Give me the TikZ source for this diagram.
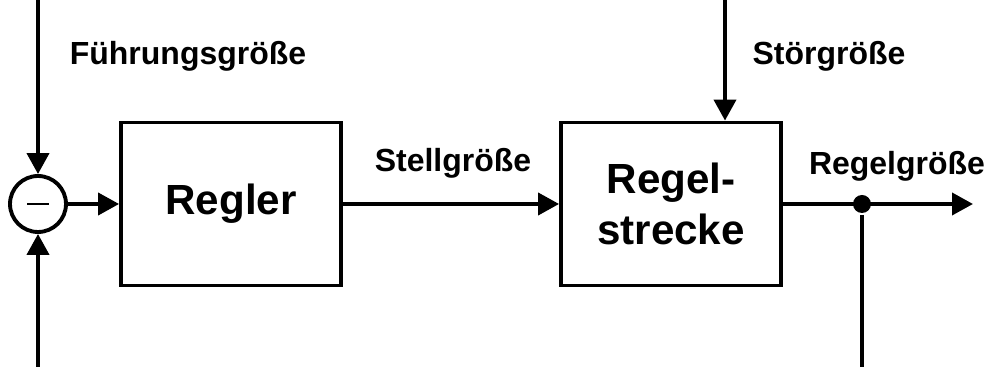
\documentclass[tikz,border=0pt]{standalone}
\usepackage{fontspec}
\setmainfont{Liberation Sans}
\usetikzlibrary{arrows.meta,positioning}

\tikzset{
  block/.style={draw,minimum width=4.4cm,minimum height=3.26cm,inner sep=0pt,font=\fontsize{24}{29.5}\selectfont\bfseries,align=center},
  signal/.style={font=\fontsize{18.2}{22}\selectfont\bfseries,inner sep=0pt,anchor=base},
  sumpoint/.style={draw,circle,minimum size=1.12cm,inner sep=0pt},
  dot/.style={fill,circle,minimum size=0.36cm,inner sep=0pt}
}

\begin{document}
\begin{tikzpicture}[x=0.02cm,y=-0.02cm,line width=2.2pt,>={Triangle[length=0.42cm,width=0.44cm]}]
\useasboundingbox (0,0) rectangle (992,367);
\node[sumpoint] (sum) at (38,204) {};
\draw[line width=1.2pt] ([xshift=-0.22cm]sum.center)--([xshift=0.22cm]sum.center);
\node[block] (regler) at (231,204) {Regler};
\node[block] (strecke) at (671,204) {Regel-\\strecke};
\node[dot] (branch) at (862,204) {};

\coordinate (w) at (38,0);
\coordinate (fb) at (38,367);
\coordinate (z) at (725,0);
\coordinate (y) at (973,204);
\coordinate (yfb) at (862,367);

\node[signal] (wlab) at (188,65) {Führungsgröße};
\node[signal] (ulab) at (453,172) {Stellgröße};
\node[signal] (zlab) at (829,65) {Störgröße};
\node[signal] (ylab) at (897,175) {Regelgröße};

\draw[->] (w)--(sum);
\draw[->] (fb)--(sum);
\draw[->] (sum)--(regler);
\draw[->] (regler)--(strecke);
\draw[->] (z)--(z|-strecke.north);
\draw[->] (strecke)--(y);
\draw (branch)--(yfb);
\end{tikzpicture}
\end{document}
